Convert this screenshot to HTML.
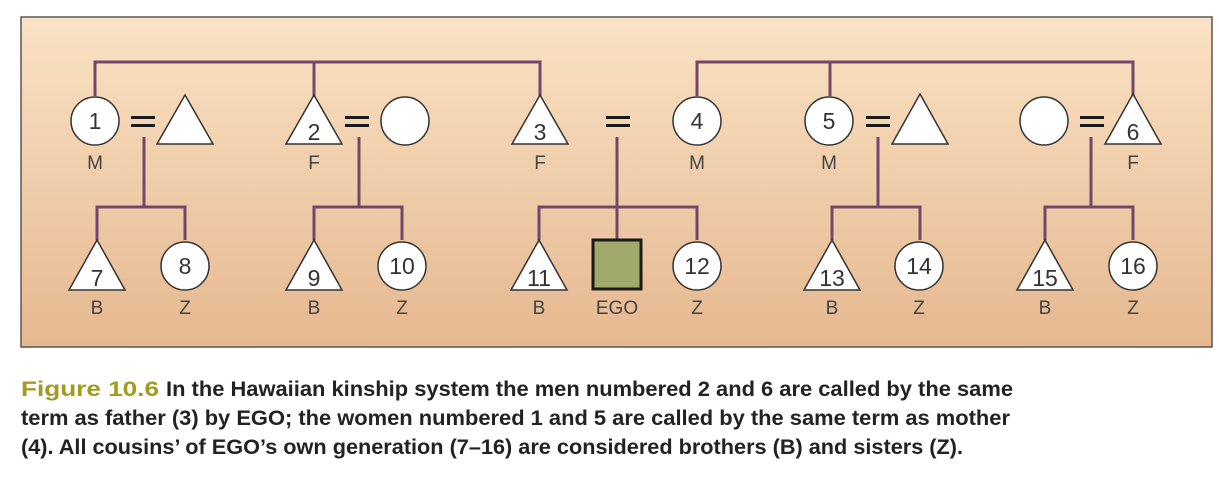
<!DOCTYPE html>
<html><head><meta charset="utf-8"><style>
html,body{margin:0;padding:0;background:#fff;width:1219px;height:504px;overflow:hidden}
svg{display:block}
text{font-family:"Liberation Sans",sans-serif}
</style></head><body>
<svg width="1219" height="504" viewBox="0 0 1219 504" xmlns="http://www.w3.org/2000/svg">
<defs><linearGradient id="g" x1="0" y1="0" x2="0" y2="1"><stop offset="0" stop-color="#fae2c4"/><stop offset="1" stop-color="#e5b890"/></linearGradient></defs>
<rect x="21" y="17" width="1191" height="330" fill="url(#g)" stroke="#5a5550" stroke-width="1.5"/>
<g stroke="#74476a" stroke-width="3" fill="none">
<polyline points="95,96 95,62 540,62 540,96"/><line x1="314" y1="62" x2="314" y2="96"/>
<polyline points="697,96 697,62 1133,62 1133,96"/><line x1="830" y1="62" x2="830" y2="96"/>
<polyline points="144,137 144,207"/><polyline points="97,240 97,207 185,207 185,240"/>
<polyline points="359,137 359,207"/><polyline points="314,240 314,207 402,207 402,240"/>
<polyline points="617,137 617,240"/><polyline points="539,240 539,207 697,207 697,240"/>
<polyline points="878,137 878,207"/><polyline points="832,240 832,207 920,207 920,240"/>
<polyline points="1091,137 1091,207"/><polyline points="1045,240 1045,207 1133,207 1133,240"/>
</g>
<g fill="#1a1a1a">
<rect x="131" y="116" width="24" height="3"/><rect x="131" y="124" width="24" height="3"/>
<rect x="345" y="116" width="24" height="3"/><rect x="345" y="124" width="24" height="3"/>
<rect x="606" y="116" width="24" height="3"/><rect x="606" y="124" width="24" height="3"/>
<rect x="866" y="116" width="24" height="3"/><rect x="866" y="124" width="24" height="3"/>
<rect x="1080" y="116" width="24" height="3"/><rect x="1080" y="124" width="24" height="3"/>
</g>
<g fill="#fff" stroke="#333" stroke-width="1.5">
<circle cx="95" cy="121" r="24"/><polygon points="185,95 213,144 157,144"/>
<polygon points="314,95 342,144 286,144"/><circle cx="405" cy="121" r="24"/>
<polygon points="540,95 568,144 512,144"/>
<circle cx="697" cy="121" r="24"/>
<circle cx="829" cy="121" r="24"/><polygon points="920,94 948,144 892,144"/>
<circle cx="1044" cy="121" r="24"/><polygon points="1133,94 1161,144 1105,144"/>
<polygon points="97,240 125,290 69,290"/><circle cx="185" cy="266" r="24"/>
<polygon points="314,240 342,290 286,290"/><circle cx="402" cy="266" r="24"/>
<polygon points="539,240 567,290 511,290"/><circle cx="697" cy="266" r="24"/>
<polygon points="832,240 860,290 804,290"/><circle cx="919" cy="266" r="24"/>
<polygon points="1045,240 1073,290 1017,290"/><circle cx="1133" cy="266" r="24"/>
</g>
<rect x="593" y="240" width="48" height="49" fill="#a0a86c" stroke="#1a1a1a" stroke-width="3"/>
<g font-size="23" fill="#333" text-anchor="middle">
<text x="95" y="129">1</text><text x="314" y="140">2</text><text x="540" y="140">3</text>
<text x="697" y="129">4</text><text x="829" y="129">5</text><text x="1133" y="140">6</text>
<text x="97" y="286">7</text><text x="185" y="274">8</text><text x="314" y="286">9</text><text x="402" y="274">10</text>
<text x="539" y="286">11</text><text x="697" y="274">12</text><text x="832" y="286">13</text><text x="919" y="274">14</text>
<text x="1045" y="286">15</text><text x="1133" y="274">16</text>
</g>
<g font-size="19" fill="#444" text-anchor="middle">
<text x="95" y="169">M</text><text x="314" y="169">F</text><text x="540" y="169">F</text><text x="697" y="169">M</text><text x="829" y="169">M</text><text x="1133" y="169">F</text>
<text x="97" y="314">B</text><text x="185" y="314">Z</text><text x="314" y="314">B</text><text x="402" y="314">Z</text>
<text x="539" y="314">B</text><text x="617" y="314">EGO</text><text x="697" y="314">Z</text><text x="832" y="314">B</text><text x="919" y="314">Z</text>
<text x="1045" y="314">B</text><text x="1133" y="314">Z</text>
</g>
<g font-size="21" font-weight="bold" fill="#222">
<text x="21" y="396" font-family="Liberation Serif, serif" fill="#a39a1e" textLength="138" lengthAdjust="spacingAndGlyphs">Figure 10.6</text>
<text x="166" y="396" textLength="847" lengthAdjust="spacingAndGlyphs">In the Hawaiian kinship system the men numbered 2 and 6 are called by the same</text>
<text x="21" y="425" textLength="989" lengthAdjust="spacingAndGlyphs">term as father (3) by EGO; the women numbered 1 and 5 are called by the same term as mother</text>
<text x="21" y="454" textLength="942" lengthAdjust="spacingAndGlyphs">(4). All cousins’ of EGO’s own generation (7–16) are considered brothers (B) and sisters (Z).</text>
</g>
</svg>
</body></html>
